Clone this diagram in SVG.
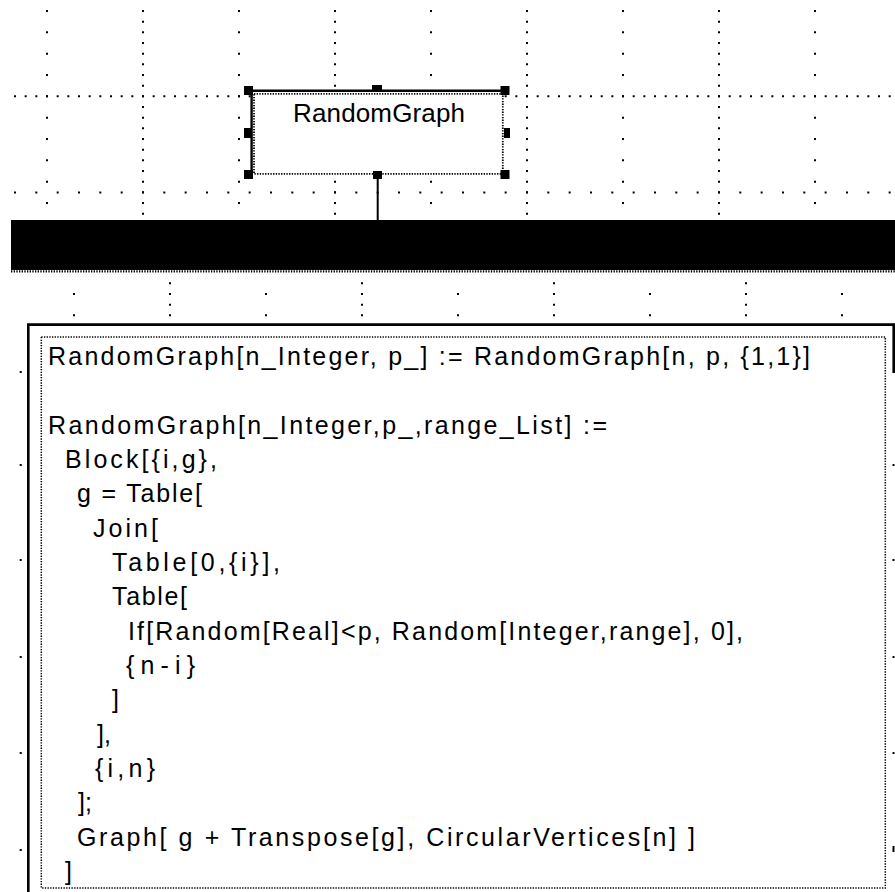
<svg xmlns="http://www.w3.org/2000/svg" width="895" height="892" viewBox="0 0 895 892">
  <style>
    .dense { stroke: #000; stroke-width: 2; stroke-dasharray: 2 8.667; fill: none; }
    .sparse { stroke: #000; stroke-width: 2; stroke-dasharray: 2 19.333; fill: none; }
    .dots { stroke: #000; fill: none; stroke-dasharray: 1.333 1.333; }
    .handle { fill: #000; }
    .code { font-family: "Liberation Sans", Arial, sans-serif; font-size: 25px; fill: #000; }
    .label { font-family: "Liberation Sans", Arial, sans-serif; font-size: 26px; fill: #000; }
  </style>

  <rect x="0" y="0" width="895" height="892" fill="#fff"/>

  <!-- upper drawing grid -->
  <g id="grid-upper">
    <line class="dense" x1="143" y1="10" x2="143" y2="216"/>
    <line class="dense" x1="335" y1="10" x2="335" y2="216"/>
    <line class="dense" x1="527" y1="10" x2="527" y2="216"/>
    <line class="dense" x1="719" y1="10" x2="719" y2="216"/>
    <line class="sparse" x1="47" y1="10" x2="47" y2="216"/>
    <line class="sparse" x1="239" y1="10" x2="239" y2="216"/>
    <line class="sparse" x1="431" y1="10" x2="431" y2="216"/>
    <line class="sparse" x1="623" y1="10" x2="623" y2="216"/>
    <line class="sparse" x1="815" y1="10" x2="815" y2="216"/>
    <line class="dense" x1="14" y1="96.3" x2="895" y2="96.3"/>
    <line class="sparse" x1="14" y1="192.4" x2="895" y2="192.4"/>
  </g>

  <!-- lower drawing grid -->
  <g id="grid-lower">
    <line class="dense" x1="170" y1="282.3" x2="170" y2="318"/>
    <line class="dense" x1="362" y1="282.3" x2="362" y2="318"/>
    <line class="dense" x1="554" y1="282.3" x2="554" y2="318"/>
    <line class="dense" x1="746" y1="282.3" x2="746" y2="318"/>
    <line class="sparse" x1="74" y1="293" x2="74" y2="318"/>
    <line class="sparse" x1="266" y1="293" x2="266" y2="318"/>
    <line class="sparse" x1="458" y1="293" x2="458" y2="318"/>
    <line class="sparse" x1="650" y1="293" x2="650" y2="318"/>
    <line class="sparse" x1="842" y1="293" x2="842" y2="318"/>
    <g fill="#000">
      <rect x="19.7" y="371" width="2" height="2"/>
      <rect x="19.7" y="464" width="2" height="2"/>
      <rect x="19.7" y="559" width="2" height="2"/>
      <rect x="19.7" y="656" width="2" height="2"/>
      <rect x="19.7" y="752" width="2" height="2"/>
      <rect x="19.7" y="849" width="2" height="2"/>
      <rect x="892.5" y="464" width="2" height="2"/>
      <rect x="892.5" y="559" width="2" height="2"/>
      <rect x="892.5" y="656" width="2" height="2"/>
      <rect x="892.5" y="752" width="2" height="2"/>
      <rect x="892.5" y="846" width="2" height="6"/>
    </g>
  </g>

  <!-- node -->
  <g id="node-randomgraph">
    <rect x="253" y="92" width="251" height="82" fill="#fff"/>
    <line x1="250" y1="90.8" x2="503" y2="90.8" stroke="#000" stroke-width="2.4"/>
    <line x1="251.6" y1="90" x2="251.6" y2="174" stroke="#000" stroke-width="2.4"/>
    <rect class="dots" x="254" y="93.8" width="248.8" height="80" stroke-width="1.8"/>
    <rect class="handle" x="244" y="86" width="9" height="9"/>
    <rect class="handle" x="500.5" y="86" width="9" height="9"/>
    <rect class="handle" x="244" y="170" width="9" height="9"/>
    <rect class="handle" x="500.5" y="170" width="9" height="9"/>
    <rect class="handle" x="372" y="85" width="10" height="6"/>
    <rect class="handle" x="244" y="128" width="7" height="10"/>
    <rect class="handle" x="504" y="128" width="6" height="10"/>
    <rect class="handle" x="373" y="171" width="9" height="8"/>
    <text class="label" x="293" y="122" textLength="172">RandomGraph</text>
  </g>

  <!-- connectors -->
  <g id="connectors">
    <line x1="377.7" y1="178" x2="377.7" y2="221" stroke="#000" stroke-width="2"/>
  </g>

  <!-- black band -->
  <g id="band">
    <rect x="11" y="220" width="884" height="50" fill="#000"/>
    <line class="dots" x1="11" y1="271.4" x2="895" y2="271.4" stroke-width="2.2"/>
  </g>

  <!-- code listing -->
  <g id="code-box">
    <path d="M28.3 900 V324.6 H893.7 V373" fill="#fff" stroke="#000" stroke-width="2.6"/>
    <rect class="dots" x="41.3" y="337" width="844" height="551" stroke-width="1.5"/>
    <text class="code" x="48" y="365" textLength="762">RandomGraph[n_Integer, p_] := RandomGraph[n, p, {1,1}]</text>
    <text class="code" x="48" y="433.7" textLength="559">RandomGraph[n_Integer,p_,range_List] :=</text>
    <text class="code" x="65" y="468" textLength="152">Block[{i,g},</text>
    <text class="code" x="77" y="502.3" textLength="125">g = Table[</text>
    <text class="code" x="93" y="536.7" textLength="65">Join[</text>
    <text class="code" x="112" y="571" textLength="168">Table[0,{i}],</text>
    <text class="code" x="112" y="605.3" textLength="75">Table[</text>
    <text class="code" x="128" y="639.7" textLength="615">If[Random[Real]&lt;p, Random[Integer,range], 0],</text>
    <text class="code" x="126" y="674" textLength="69">{n-i}</text>
    <text class="code" x="112" y="708.3">]</text>
    <text class="code" x="97" y="742.7">],</text>
    <text class="code" x="95" y="777" textLength="60">{i,n}</text>
    <text class="code" x="78" y="811.3">];</text>
    <text class="code" x="77" y="845.7" textLength="618">Graph[ g + Transpose[g], CircularVertices[n] ]</text>
    <text class="code" x="65" y="880">]</text>
  </g>
</svg>
